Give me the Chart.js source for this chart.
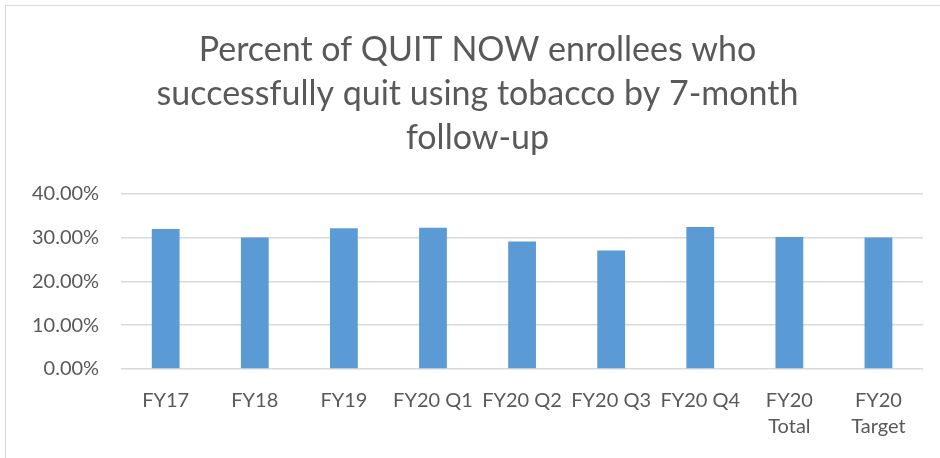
<!DOCTYPE html>
<html>
<head>
<meta charset="utf-8">
<script src="https://cdn.jsdelivr.net/npm/chart.js@4.4.0/dist/chart.umd.min.js"></script>
<style>
  html, body { margin: 0; padding: 0; background: #fff; overflow: hidden; }
  #frame { position: absolute; left: 5px; top: 5px; width: 1000px; height: 500px; border: 1px solid #d9d9d9; }
  #box { position: absolute; left: 0; top: 0; width: 940px; height: 458px; }
</style>
</head>
<body>
<div id="frame"></div>
<div id="box"><canvas id="myChart"></canvas></div>
<script>
// categories and values (percent)
var categories = ['FY17', 'FY18', 'FY19', 'FY20 Q1', 'FY20 Q2', 'FY20 Q3', 'FY20 Q4', ['FY20', 'Total'], ['FY20', 'Target']];
var quitRate = [31.9, 30.0, 32.1, 32.2, 29.1, 27.0, 32.4, 30.1, 30.0];
var yTicks = [0, 10, 20, 30, 40];
var titleLines = ['Percent of QUIT NOW enrollees who', 'successfully quit using tobacco by 7-month', 'follow-up'];

var grey = '#595959';

// the original chart box runs past the right edge, so its title sits a bit right of centre
var shiftTitle = {
    id: 'shiftTitle',
    afterLayout: function(c) {
        if (c.titleBlock) c.titleBlock.left += 22;
    }
};

var ctx = document.getElementById('myChart').getContext('2d');
var chart = new Chart(ctx, {
    type: 'bar',
    data: {
        labels: categories,
        datasets: [{
            label: 'Quit rate',
            backgroundColor: '#5b9bd5',
            data: quitRate,
            barPercentage: 0.39,
            categoryPercentage: 0.8
        }]
    },
    options: {
        responsive: true,
        maintainAspectRatio: false,
        animation: false,
        layout: { padding: { left: 10, right: 17, top: 10, bottom: 7 } },
        plugins: {
            legend: { display: false },
            tooltip: { enabled: false },
            title: {
                display: true,
                text: titleLines,
                color: grey,
                font: { family: 'Lato', size: 34, weight: 'normal', lineHeight: 1.3 },
                padding: { top: 18, bottom: 33 }
            }
        },
        scales: {
            x: {
                grid: { display: false },
                border: { display: false },
                ticks: {
                    color: grey,
                    maxRotation: 0,
                    autoSkip: false,
                    padding: 11,
                    font: { family: 'Lato', size: 20, lineHeight: 1.3 }
                }
            },
            y: {
                min: 0,
                max: 40,
                afterBuildTicks: function(axis) {
                    axis.ticks = yTicks.map(function(v) { return { value: v }; });
                },
                grid: { color: '#d9d9d9', lineWidth: 1.5, drawTicks: false },
                border: { display: false },
                ticks: {
                    color: grey,
                    padding: 22,
                    font: { family: 'Lato', size: 20 },
                    callback: function(v) { return v.toFixed(2) + '%'; }
                }
            }
        }
    },
    plugins: [shiftTitle]
});
</script>
</body>
</html>
